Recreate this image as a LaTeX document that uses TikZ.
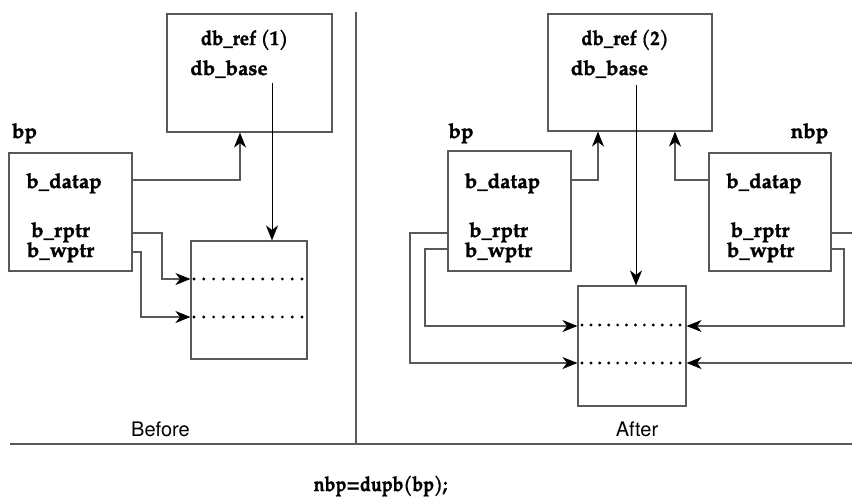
\documentclass[tikz,border=0pt]{standalone}
\usepackage{fontspec}
\setmainfont{TeX Gyre Pagella}[BoldFeatures={FakeBold=1.3}]
\newfontfamily\herosfont{TeX Gyre Heros}
\usetikzlibrary{arrows.meta}
\begin{document}
\begin{tikzpicture}[x=1pt,y=-1pt,
  box/.style={draw=black!65,line width=1.1pt,inner sep=0pt},
  lbl/.style={anchor=base,inner sep=0pt,font=\fontsize{20.5}{22}\selectfont\bfseries},
  captext/.style={anchor=base,inner sep=0pt,font=\fontsize{20}{22}\selectfont\herosfont},
  conn/.style={draw=black!65,line width=1.1pt},
  arr/.style={conn,-{Stealth[length=15pt,width=12pt,inset=4.5pt,black]}},
  ptr/.style={draw=black,line width=0.9pt,-{Stealth[length=15pt,width=12pt,inset=4.5pt,black]}},
  rule/.style={draw=black!65,line width=1.1pt},
  dotsl/.style={draw=black,line width=3.2pt,line cap=round,dash pattern=on 0pt off 9.818pt},
  dotsr/.style={draw=black,line width=3.2pt,line cap=round,dash pattern=on 0pt off 8.909pt}]
\useasboundingbox (0,0) rectangle (852,501);

% separators
\coordinate (septop) at (356,12);
\coordinate (sepbot) at (356,444);
\coordinate (hl) at (10,444);
\coordinate (hr) at (852,444);
\draw[rule] (septop) -- (sepbot);
\draw[rule] (hl) -- (hr);

% ---------------- Before ----------------
\node[box,minimum width=165pt,minimum height=118pt] (ref1) at (249.5,73) {};
\node[box,minimum width=123pt,minimum height=118pt] (bp1) at (70.5,212) {};
\node[box,minimum width=116pt,minimum height=118pt] (buf1) at (249,300) {};

\node[lbl] (ref1t) at (244.5,45) {\scalebox{0.9}[1]{db\_ref (1)}};
\node[lbl] (base1t) at (229,75) {db\_base};
\node[lbl] (bp1t) at (24.5,138) {bp};
\node[lbl] (dat1t) at (64,188) {b\_datap};
\node[lbl] (rp1t) at (60.5,237) {b\_rptr};
\node[lbl] (wp1t) at (60.5,257) {b\_wptr};
\node[captext] (before) at (160.5,436) {Before};

\coordinate (base1) at (272,83);
\draw[ptr] (base1) -- (base1 |- buf1.north);
\draw[arr] (bp1.east |- 0,180) -| (240,0 |- ref1.south);
\draw[arr] (bp1.east |- 0,233) -| (162,279) -- (buf1.west |- 0,279);
\draw[arr] (bp1.east |- 0,252) -| (141,317) -- (buf1.west |- 0,317);
\coordinate (d1a) at (194,279);
\coordinate (d1b) at (302.5,279);
\coordinate (d2a) at (194,317);
\coordinate (d2b) at (302.5,317);
\draw[dotsl] (d1a) -- (d1b);
\draw[dotsl] (d2a) -- (d2b);

% ---------------- After ----------------
\node[box,minimum width=164pt,minimum height=117pt] (ref2) at (630,72.5) {};
\node[box,minimum width=123pt,minimum height=120pt] (bp2) at (509.5,211) {};
\node[box,minimum width=122pt,minimum height=118pt] (nbp) at (770,212) {};
\node[box,minimum width=108pt,minimum height=120pt] (buf2) at (632,346) {};

\node[lbl] (ref2t) at (625,45) {\scalebox{0.9}[1]{db\_ref (2)}};
\node[lbl] (base2t) at (609.5,75) {db\_base};
\node[lbl] (bp2t) at (461,138) {bp};
\node[lbl] (nbpt) at (809.5,138) {nbp};
\node[lbl] (dat2t) at (502.5,188) {b\_datap};
\node[lbl] (rp2t) at (498.5,237) {b\_rptr};
\node[lbl] (wp2t) at (498.5,257) {b\_wptr};
\node[lbl] (dat3t) at (764,188) {b\_datap};
\node[lbl] (rp3t) at (760,237) {b\_rptr};
\node[lbl] (wp3t) at (760.5,257) {b\_wptr};
\node[captext] (after) at (637,436) {After};

\coordinate (base2) at (636,85);
\draw[ptr] (base2) -- (base2 |- buf2.north);
\draw[arr] (bp2.east |- 0,180) -| (598,0 |- ref2.south);
\draw[arr] (nbp.west |- 0,180) -| (675,0 |- ref2.south);
\draw[arr] (bp2.west |- 0,233) -| (410,363) -- (buf2.west |- 0,363);
\draw[arr] (bp2.west |- 0,249) -| (425,326) -- (buf2.west |- 0,326);
\draw[arr] (nbp.east |- 0,233) -| (858,363) -- (buf2.east |- 0,363);
\draw[arr] (nbp.east |- 0,249) -| (844,326) -- (buf2.east |- 0,326);
\coordinate (d3a) at (582,325);
\coordinate (d3b) at (680.5,325);
\coordinate (d4a) at (582,363);
\coordinate (d4b) at (680.5,363);
\draw[dotsr] (d3a) -- (d3b);
\draw[dotsr] (d4a) -- (d4b);

\node[lbl] (code) at (380.5,491) {\scalebox{0.87}[1]{nbp=dupb(bp);}};
\end{tikzpicture}
\end{document}
